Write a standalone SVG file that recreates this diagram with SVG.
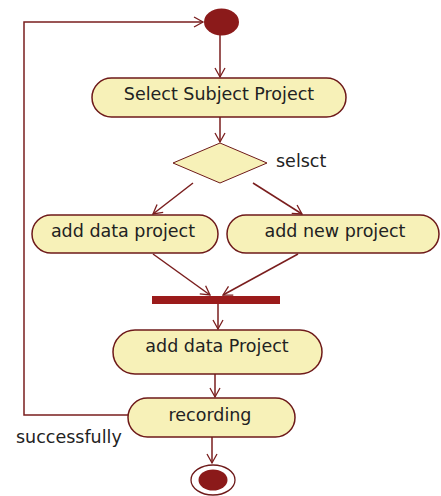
<svg xmlns="http://www.w3.org/2000/svg" width="441" height="496" viewBox="0 0 441 496">
<defs>
<style>
.act{fill:#f7f1b8;stroke:#6e1a1a;stroke-width:1.5}
.lbl{font-family:"DejaVu Sans",Verdana,sans-serif;font-size:17.5px;fill:#222;text-anchor:middle}
.edge{fill:none;stroke:#7a1e1e;stroke-width:1.5}
</style>
<marker id="arr" markerWidth="12" markerHeight="12" refX="10" refY="6" orient="auto" markerUnits="userSpaceOnUse">
<path d="M1,1 L10,6 L1,11" fill="none" stroke="#7a1e1e" stroke-width="1.3"/>
</marker>
</defs>
<rect width="441" height="496" fill="#ffffff"/>
<g id="connectors">
<path class="edge" d="M220,35 L220,77" marker-end="url(#arr)"/>
<path class="edge" d="M220,117 L220,142" marker-end="url(#arr)"/>
<path class="edge" d="M193,183 L153,214" marker-end="url(#arr)"/>
<path class="edge" d="M253,183 L302,214" marker-end="url(#arr)"/>
<path class="edge" d="M153,254 L210,295" marker-end="url(#arr)"/>
<path class="edge" d="M298,254 L223,295" marker-end="url(#arr)"/>
<path class="edge" d="M218,304 L218,329" marker-end="url(#arr)"/>
<path class="edge" d="M215,374 L215,397" marker-end="url(#arr)"/>
<path class="edge" d="M212,437 L212,463" marker-end="url(#arr)"/>
<path class="edge" d="M129,415 L24,415 L24,22 L203,22" marker-end="url(#arr)"/>
<text class="lbl" x="16" y="443" style="text-anchor:start">successfully</text>
</g>
<g id="start">
<ellipse cx="221.5" cy="22" rx="17.5" ry="13.5" fill="#8b1a1a"/>
</g>
<g id="selectSubject">
<rect class="act" x="92" y="78" width="254" height="39" rx="19.5"/>
<text class="lbl" x="219" y="100">Select Subject Project</text>
</g>
<g id="decision">
<polygon class="act" points="220,143 267,163 220,183 173,163" style="stroke-width:1"/>
<text class="lbl" x="276" y="167" style="text-anchor:start">selsct</text>
</g>
<g id="addDataProject1">
<rect class="act" x="32" y="215" width="186" height="38" rx="19"/>
<text class="lbl" x="123" y="237">add data project</text>
</g>
<g id="addNewProject">
<rect class="act" x="227" y="215" width="212" height="38" rx="19"/>
<text class="lbl" x="335" y="237">add new project</text>
</g>
<g id="join">
<rect x="152" y="296" width="128" height="8" fill="#9b1b1b"/>
</g>
<g id="addDataProject2">
<rect class="act" x="113" y="330" width="209" height="44" rx="22"/>
<text class="lbl" x="217" y="352">add data Project</text>
</g>
<g id="recording">
<rect class="act" x="128" y="398" width="167" height="39" rx="19.5"/>
<text class="lbl" x="210" y="421">recording</text>
</g>
<g id="end">
<ellipse cx="213" cy="480" rx="22" ry="15" fill="#ffffff" stroke="#6e1a1a" stroke-width="1.3"/>
<ellipse cx="213" cy="480" rx="14.5" ry="10.5" fill="#8b1a1a"/>
</g>
</svg>
